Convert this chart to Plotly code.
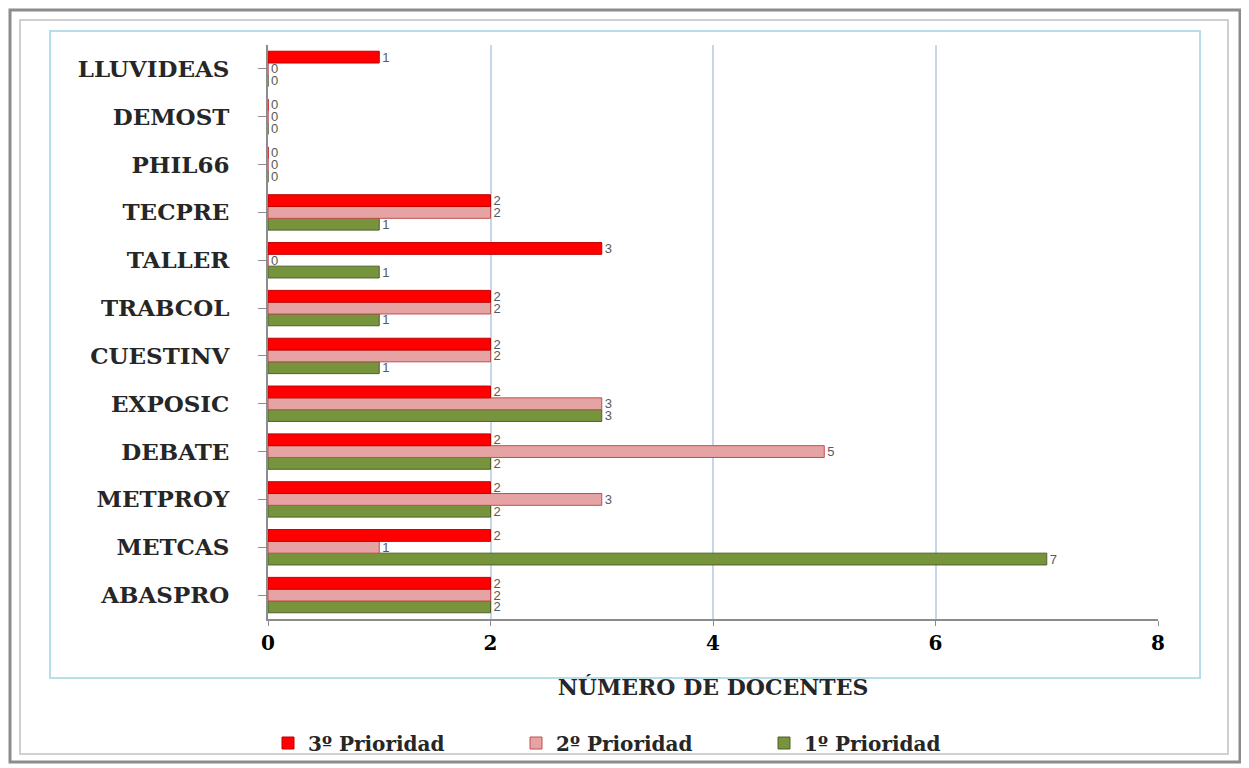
import plotly.graph_objects as go

categories = ["ABASPRO", "METCAS", "METPROY", "DEBATE", "EXPOSIC", "CUESTINV",
              "TRABCOL", "TALLER", "TECPRE", "PHIL66", "DEMOST", "LLUVIDEAS"]
prio1 = [2, 7, 2, 2, 3, 1, 1, 1, 1, 0, 0, 0]
prio2 = [2, 1, 3, 5, 3, 2, 2, 0, 2, 0, 0, 0]
prio3 = [2, 2, 2, 2, 2, 2, 2, 3, 2, 0, 0, 1]
x_ticks = [0, 2, 4, 6, 8]

W, H = 1249, 768
OFF = 8  # page body margin
L, R, T, B = 268 - OFF, 1158 - OFF, 45 - OFF, 619 - OFF

def px(p):
    return (p - OFF - L) / (R - L)

def py(q):
    return (B - (q - OFF)) / (B - T)

serif = "DejaVu Serif"
label_font = dict(family="Liberation Sans", size=13, color="#595959")

fig = go.Figure()
series = [("1º Prioridad", prio1, "#77933C", "#4F6228"),
          ("2º Prioridad", prio2, "#E6A3A3", "#C0504D"),
          ("3º Prioridad", prio3, "#FF0000", "#C00000")]
for name, vals, col, edge in series:
    fig.add_trace(go.Bar(
        y=categories, x=vals, name=name, orientation="h",
        marker=dict(color=col, line=dict(color=edge, width=1)),
        text=[str(v) for v in vals], textposition="outside",
        constraintext="none",
        textfont=label_font, cliponaxis=False,
    ))

shapes = [
    dict(type="rect", xref="paper", yref="paper",
         x0=px(10), x1=px(1240), y0=py(762), y1=py(10),
         line=dict(color="#8C8C8C", width=3), layer="below"),
    dict(type="rect", xref="paper", yref="paper",
         x0=px(20), x1=px(1228), y0=py(754), y1=py(20),
         line=dict(color="#D0D0D0", width=2), layer="below"),
    dict(type="rect", xref="paper", yref="paper",
         x0=px(50), x1=px(1200), y0=py(678), y1=py(31),
         line=dict(color="#B7DDE8", width=2), layer="below"),
]

fig.update_layout(
    width=W, height=H,
    margin=dict(l=L, r=W - R, t=T, b=H - B),
    paper_bgcolor="white", plot_bgcolor="white",
    barmode="group", bargap=0.26, bargroupgap=0.0,
    shapes=shapes,
    showlegend=True,
    legend=dict(orientation="h", x=px(268), xanchor="left", y=py(743), yanchor="middle",
                traceorder="reversed", bgcolor="rgba(0,0,0,0)",
                font=dict(family=serif, size=20, color="#262626", weight="bold"),
                itemwidth=30, entrywidth=203),
    xaxis=dict(range=[0, 8], tickvals=x_ticks, ticktext=[str(t) for t in x_ticks],
               showgrid=True, gridcolor="#C5D5EA", gridwidth=1.5,
               showline=True, linecolor="#8C8C8C", linewidth=2,
               ticks="outside", tickcolor="#8C8C8C", ticklen=5,
               tickfont=dict(family=serif, size=20, color="black", weight="bold"),
               zeroline=False,
               title=dict(text="<b>NÚMERO DE DOCENTES</b>", standoff=26,
                          font=dict(family=serif, size=22, color="#262626"))),
    yaxis=dict(showline=True, linecolor="#8C8C8C", linewidth=2,
               ticks="outside", tickcolor="#8C8C8C", ticklen=8,
               tickfont=dict(family=serif, size=23, color="#262626", weight="bold"),
               ticklabelstandoff=24, showgrid=False),
)

fig.write_html("out.html")
